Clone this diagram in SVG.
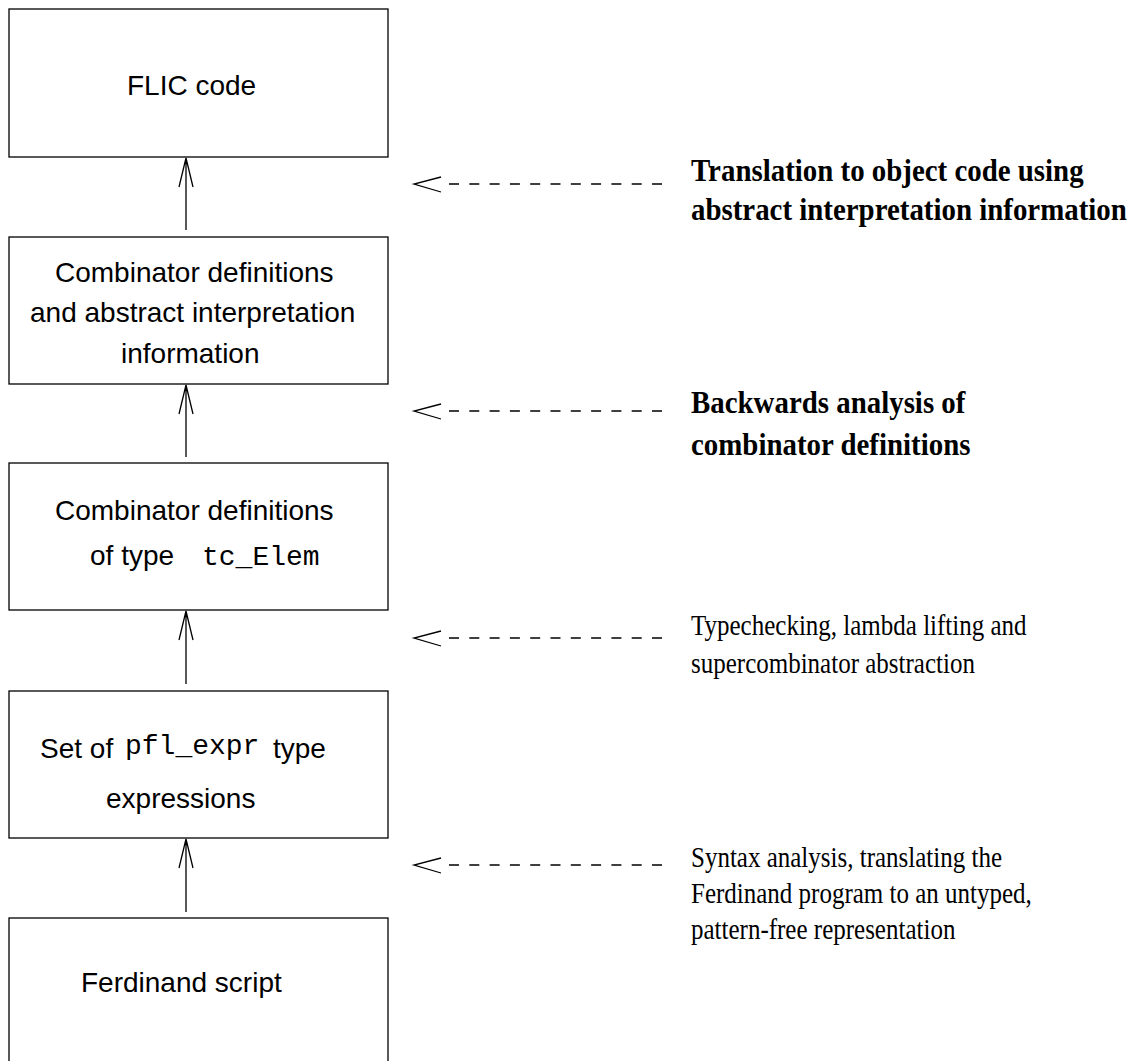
<svg xmlns="http://www.w3.org/2000/svg" width="1138" height="1061" viewBox="0 0 1138 1061">
<style>
.box{fill:#fff;stroke:#000;stroke-width:1.3}
.sans{font-family:"Liberation Sans",Arial,sans-serif;font-size:28px;fill:#000}
.mono{font-family:"Liberation Mono","Courier New",monospace;font-size:28px;fill:#000}
.lb{font-family:"Liberation Serif","Times New Roman",serif;font-size:28.9px;font-weight:bold;fill:#000}
.lr{font-family:"Liberation Serif","Times New Roman",serif;font-size:25px;fill:#000}
.ln{stroke:#000;stroke-width:1.3;fill:none}
.dash{stroke:#000;stroke-width:1.3;fill:none;stroke-dasharray:10 10.3}
</style>
<rect width="1138" height="1061" fill="#fff"/>
<g id="node-flic">
<rect class="box" x="9" y="9" width="379" height="148"/>
<text class="sans" x="127" y="95">FLIC code</text>
</g>
<g id="node-comb-abs">
<rect class="box" x="9" y="237" width="379" height="147"/>
<text class="sans" x="55" y="282">Combinator definitions</text>
<text class="sans" x="30" y="322">and abstract interpretation</text>
<text class="sans" x="121" y="363">information</text>
</g>
<g id="node-comb-tc">
<rect class="box" x="9" y="463" width="379" height="147"/>
<text class="sans" x="55" y="520">Combinator definitions</text>
<text class="sans" x="90" y="565">of type</text>
<text class="mono" x="202" y="565">tc_Elem</text>
</g>
<g id="node-pfl">
<rect class="box" x="9" y="691" width="379" height="147"/>
<text class="sans" x="40" y="758">Set of</text>
<text class="mono" x="125" y="754">pfl_expr</text>
<text class="sans" x="273" y="758">type</text>
<text class="sans" x="106" y="808">expressions</text>
</g>
<g id="node-ferdinand">
<rect class="box" x="9" y="918" width="379" height="200"/>
<text class="sans" x="81" y="992">Ferdinand script</text>
</g>
<g id="connectors">
<path class="ln" d="M186 230V158M179 187L186 158L193 187"/>
<path class="ln" d="M186 457V385M179 414L186 385L193 414"/>
<path class="ln" d="M186 684V611M179 640L186 611L193 640"/>
<path class="ln" d="M186 912V839M179 868L186 839L193 868"/>
<path class="ln" d="M441 177L414 184L441 192"/>
<line class="dash" x1="449" y1="184" x2="662" y2="184"/>
<path class="ln" d="M441 404L414 411L441 419"/>
<line class="dash" x1="449" y1="411" x2="662" y2="411"/>
<path class="ln" d="M441 631L414 638L441 646"/>
<line class="dash" x1="449" y1="638" x2="662" y2="638"/>
<path class="ln" d="M441 858L414 865L441 873"/>
<line class="dash" x1="449" y1="865" x2="662" y2="865"/>
</g>
<g id="label-translation">
<text class="lb" transform="translate(691,181) scale(1,1.1)">Translation to object code using</text>
<text class="lb" transform="translate(691,220) scale(1,1.1)">abstract interpretation information</text>
</g>
<g id="label-backwards">
<text class="lb" transform="translate(691,413) scale(1,1.1)">Backwards analysis of</text>
<text class="lb" transform="translate(691,455) scale(1,1.1)">combinator definitions</text>
</g>
<g id="label-typecheck">
<text class="lr" transform="translate(691,635) scale(1,1.2)">Typechecking, lambda lifting and</text>
<text class="lr" transform="translate(691,673) scale(1,1.2)">supercombinator abstraction</text>
</g>
<g id="label-syntax">
<text class="lr" transform="translate(691,867) scale(1,1.2)">Syntax analysis, translating the</text>
<text class="lr" transform="translate(691,903) scale(1,1.2)">Ferdinand program to an untyped,</text>
<text class="lr" transform="translate(691,939) scale(1,1.2)">pattern-free representation</text>
</g>
</svg>
